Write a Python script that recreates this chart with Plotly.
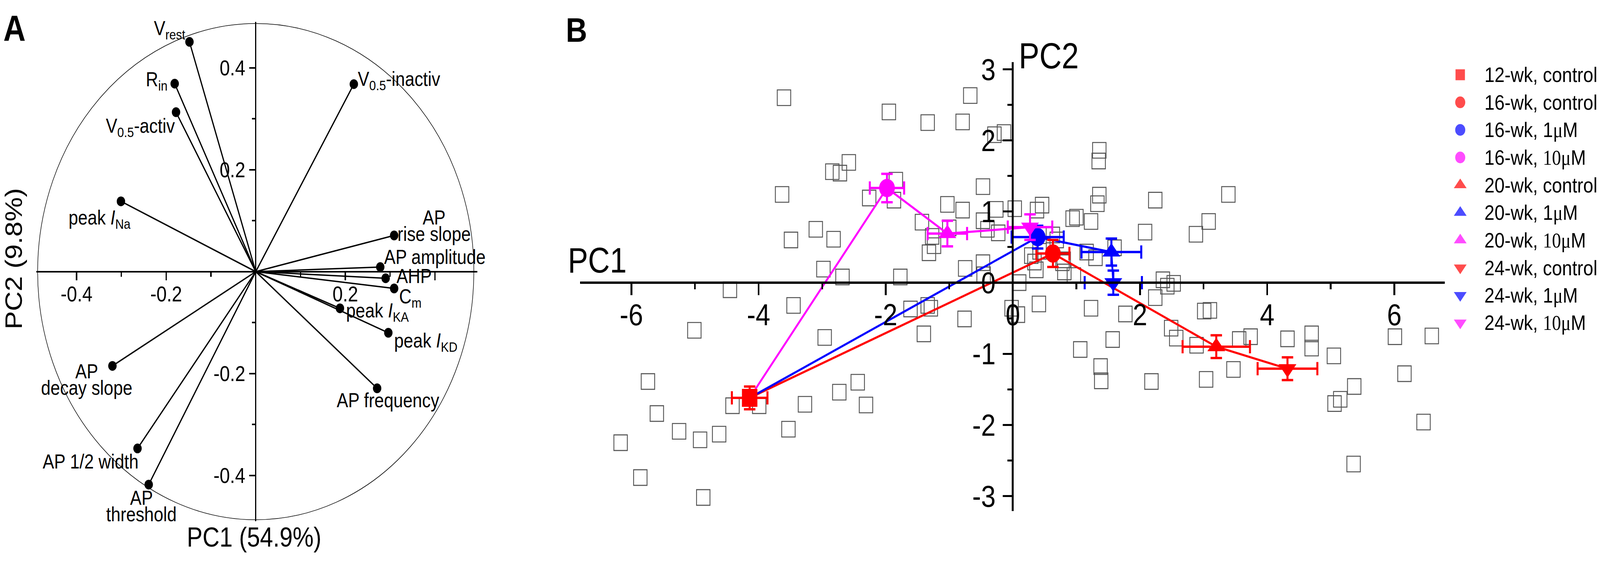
import plotly.graph_objects as go

W, H = 4762, 1442
FONT = "Liberation Sans, Arial, sans-serif"

# ---------------- Panel A: PCA loadings ----------------
load_names = [
    "V<sub>rest</sub>", "R<sub>in</sub>", "V<sub>0.5</sub>-activ", "V<sub>0.5</sub>-inactiv",
    "peak <i>I</i><sub>Na</sub>", "AP<br>rise slope", "AP amplitude", "AHP", "C<sub>m</sub>",
    "peak <i>I</i><sub>KA</sub>", "peak <i>I</i><sub>KD</sub>", "AP frequency",
    "AP<br>decay slope", "AP 1/2 width", "AP<br>threshold",
]
load_pc1 = [-0.148, -0.181, -0.178, 0.219, -0.301, 0.309, 0.278, 0.290, 0.309,
            0.188, 0.296, 0.271, -0.320, -0.264, -0.239]
load_pc2 = [0.451, 0.369, 0.313, 0.368, 0.138, 0.071, 0.009, -0.013, -0.033,
            -0.072, -0.120, -0.229, -0.185, -0.347, -0.418]
a_xtickvals = [-0.4, -0.2, 0.2, 0.4]
a_xticktext = ["-0.4", "-0.2", "0.2", " "]
a_ytickvals = [-0.4, -0.2, 0.2, 0.4]
a_yticktext = ["-0.4", "-0.2", "0.2", "0.4"]
a_minor = [-0.3, -0.1, 0.1, 0.3]
a_xtitle = "PC1 (54.9%)"
a_ytitle = "PC2 (9.8%)"

# ---------------- Panel B: PCA scores ----------------
cell_pc1 = [
    -3.60, -1.95, -1.34, -0.79, -0.67, -0.29, -0.14, -2.58, -2.72, -2.84,
    -3.63, -1.84, -2.26, -1.87, -0.47, -1.03, -0.79, -0.26, 0.03, -1.43,
    -1.27, -1.00, -0.47, -0.40, -0.23, -3.10, -3.49, -2.82, -1.32, -1.24,
    -2.98, -2.68, -1.77, -0.75, -0.47, -0.46, -4.45, 0.10, -3.45, -1.61,
    -1.34, -1.29, -0.76, -0.02, 0.08, -5.01, -2.96, -1.40, -5.74, -5.60,
    -6.17, -5.25, -4.92, -4.62, -5.86, -4.87, -4.41, -3.99, -3.53, -3.27,
    -2.73, -2.44, -2.31,
    1.36, 1.35, 1.36, 1.33, 0.38, 0.46, 0.94, 1.00, 1.23, 2.24,
    3.39, 3.08, 2.88, 2.08, 0.63, 0.69, 0.29, 0.37, 0.81, 0.96,
    1.16, 1.30, 1.60, 0.41, 1.23, 1.77, 2.24, 2.36, 2.53, 2.43,
    2.49, 2.57, 2.89, 3.01, 3.10, 3.56, 3.74, 4.32, 4.70, 4.70,
    5.05, 6.01, 6.59, 6.16, 1.06, 1.57, 1.38, 1.39, 2.18, 3.04,
    3.47, 5.37, 5.15, 5.06, 6.46, 5.36, 0.34, 0.78, 0.42, 0.80,
]
cell_pc2 = [
    2.60, 2.40, 2.25, 2.26, 2.63, 2.08, 2.11, 1.69, 1.54, 1.56,
    1.24, 1.44, 1.19, 1.16, 1.35, 1.10, 1.02, 1.03, 1.04, 0.85,
    0.65, 0.77, 0.87, 0.75, 0.70, 0.75, 0.60, 0.61, 0.42, 0.52,
    0.19, 0.08, 0.08, 0.20, 0.28, 0.11, -0.10, 0.00, -0.32, -0.37,
    -0.32, -0.36, -0.51, -0.36, -0.45, -0.67, -0.77, -0.72, -1.39, -1.84,
    -2.25, -2.09, -2.21, -2.13, -2.74, -3.02, -1.73, -1.73, -2.06, -1.71,
    -1.54, -1.40, -1.72,
    1.86, 1.71, 1.23, 1.11, 1.02, 1.09, 0.90, 0.92, 0.86, 1.16,
    1.24, 0.86, 0.68, 0.71, 0.67, 0.60, 0.38, 0.18, 0.15, 0.10,
    0.43, 0.35, 0.49, -0.30, -0.36, -0.44, -0.21, 0.04, -0.01, -0.05,
    -0.64, -0.78, -0.88, -0.40, -0.39, -0.80, -0.76, -0.79, -0.72, -0.92,
    -1.03, -0.76, -0.75, -1.28, -0.94, -0.80, -1.18, -1.38, -1.39, -1.36,
    -1.22, -1.46, -1.64, -1.70, -1.96, -2.55, 0.29, 0.28, 0.44, 0.32,
]

MU = "<span style='font-family:Liberation Serif, Times New Roman, serif'>"
group_names = [
    "12-wk, control", "16-wk, control",
    "16-wk, 1" + MU + "\u03bc</span>M",
    "16-wk, " + MU + "10\u03bc</span>M",
    "20-wk, control",
    "20-wk, 1" + MU + "\u03bc</span>M",
    "20-wk, " + MU + "10\u03bc</span>M",
    "24-wk, control",
    "24-wk, 1" + MU + "\u03bc</span>M",
    "24-wk, " + MU + "10\u03bc</span>M",
]
group_pc1 = [-4.14, 0.63, 0.39, -1.98, 3.20, 1.55, -1.03, 4.32, 1.58, 0.27]
group_pc2 = [-1.62, 0.41, 0.64, 1.33, -0.90, 0.43, 0.69, -1.21, 0.00, 0.78]
group_err1 = [0.28, 0.26, 0.41, 0.27, 0.53, 0.47, 0.31, 0.47, 0.45, 0.35]
group_err2 = [0.16, 0.19, 0.16, 0.20, 0.16, 0.19, 0.18, 0.16, 0.17, 0.18]
# trajectories (indices into the groups)
path_control = [0, 1, 4, 7]
path_1uM = [0, 2, 5, 8]
path_10uM = [0, 3, 6, 9]

b_ticks_x = [-6, -4, -2, 0, 2, 4, 6]
b_minor_x = [-5, -3, -1, 1, 3, 5]
b_ticks_y = [-3, -2, -1, 0, 1, 2, 3]
b_minor_y = [-2.5, -1.5, -0.5, 0.5, 1.5, 2.5]

# ---------------- styles ----------------
RED, BLUE, MAG = "#FF0000", "#0000FF", "#FF00FF"
group_colors = [RED, RED, BLUE, MAG, RED, BLUE, MAG, RED, BLUE, MAG]
group_symbols = ["square", "circle", "circle", "circle", "triangle-up", "triangle-up",
                 "triangle-up", "triangle-down", "triangle-down", "triangle-down"]
group_sizes = [46, 47, 47, 47, 46, 46, 46, 46, 46, 46]
legend_sizes = [28, 30, 30, 30, 33, 33, 33, 33, 33, 33]

# label placement: (xanchor, dx px, dy px downward) relative to loading point
label_style = [
    ("right", -11, -31), ("right", -20, -7), ("right", -2, 39), ("left", 11, -9),
    ("right", 30, 46), ("center", 119, -46), ("left", 10, -26), ("left", 31, -5),
    ("left", 14, 25), ("left", 17, 10), ("left", 16, 24), ("center", 33, 31),
    ("center", -77, 14), ("right", 4, 34), ("center", -22, 34),
]
LINE_PITCH = 42


def fx(p):
    return p / W


def fy(p):
    return 1 - p / H


def zero_pos(rng, dom):
    t = (0 - rng[0]) / (rng[1] - rng[0])
    return dom[0] + t * (dom[1] - dom[0])


A_xdom = [fx(108), fx(1421)]
A_ydom = [fy(1338), fy(32)]
A_xr = [-0.49, 0.495]
A_yr = [-0.49, 0.49]
B_xdom = [fx(1726), fx(4303)]
B_ydom = [fy(1311), fy(137)]
B_xr = [-6.81, 6.81]
B_yr = [-3.21, 3.10]

fig = go.Figure()

# ---- Panel A traces ----
vx, vy = [], []
for a, b in zip(load_pc1, load_pc2):
    vx += [0, a, None]
    vy += [0, b, None]
fig.add_trace(go.Scatter(x=vx, y=vy, mode="lines", line=dict(color="black", width=3.6),
                         xaxis="x", yaxis="y", hoverinfo="skip", showlegend=False))
fig.add_trace(go.Scatter(x=load_pc1, y=load_pc2, mode="markers",
                         marker=dict(color="black", size=25), xaxis="x", yaxis="y",
                         showlegend=False))
R_CIRC = 0.487
fig.add_shape(type="circle", xref="x", yref="y", x0=-R_CIRC, y0=-R_CIRC, x1=R_CIRC, y1=R_CIRC,
              line=dict(color="black", width=1.6), layer="below")

annotations = []
for name, a, b, (xa, dx, dy) in zip(load_names, load_pc1, load_pc2, label_style):
    for k, line in enumerate(name.split("<br>")):
        annotations.append(dict(x=a, y=b, xref="x", yref="y", text=line, showarrow=False,
                                xanchor=xa, yanchor="middle", xshift=dx,
                                yshift=-(dy + k * LINE_PITCH), borderpad=0,
                                font=dict(family=FONT, size=51, color="black")))

# ---- Panel B traces ----
fig.add_trace(go.Scatter(x=cell_pc1, y=cell_pc2, mode="markers", xaxis="x2", yaxis="y2",
                         marker=dict(symbol="square-open", size=40, color="#555555",
                                     line=dict(width=2.6, color="#555555")),
                         showlegend=False))
for path, col in [(path_control, RED), (path_1uM, BLUE), (path_10uM, MAG)]:
    fig.add_trace(go.Scatter(x=[group_pc1[i] for i in path], y=[group_pc2[i] for i in path],
                             mode="lines", line=dict(color=col, width=5.5),
                             xaxis="x2", yaxis="y2", showlegend=False, hoverinfo="skip"))
for i in range(len(group_names)):
    fig.add_trace(go.Scatter(
        x=[group_pc1[i]], y=[group_pc2[i]], mode="markers", xaxis="x2", yaxis="y2",
        marker=dict(symbol=group_symbols[i], size=group_sizes[i], color=group_colors[i],
                    line=dict(width=0)),
        error_x=dict(type="data", array=[group_err1[i]], color=group_colors[i],
                     thickness=6, width=17),
        error_y=dict(type="data", array=[group_err2[i]], color=group_colors[i],
                     thickness=6, width=17),
        showlegend=False))

# ---- legend (drawn on its own hidden axes, pixel units) ----
LEG_Y0, LEG_DY, LEG_MX, LEG_TX = 170, 72.1, 4346, 4417
leg_y = [LEG_Y0 + i * LEG_DY for i in range(len(group_names))]
fig.add_trace(go.Scatter(x=[LEG_MX] * len(group_names), y=leg_y, mode="markers",
                         xaxis="x3", yaxis="y3",
                         marker=dict(symbol=group_symbols, size=legend_sizes,
                                     color=group_colors, line=dict(width=0)),
                         showlegend=False, hoverinfo="skip"))
for name, yy in zip(group_names, leg_y):
    annotations.append(dict(x=LEG_TX, y=yy, xref="x3", yref="y3", text=name, showarrow=False,
                            xanchor="left", yanchor="middle", borderpad=0,
                            font=dict(family=FONT, size=54, color="black")))

# ---- titles / panel letters ----
annotations += [
    dict(x=fx(756), y=fy(1380), xref="paper", yref="paper", text=a_xtitle, showarrow=False,
         xanchor="center", yanchor="middle", font=dict(family=FONT, size=70)),
    dict(x=fx(41), y=fy(651), xref="paper", yref="paper", text=a_ytitle, showarrow=False,
         textangle=-90, xanchor="center", yanchor="middle", font=dict(family=FONT, size=70)),
    dict(x=fx(1688), y=fy(656), xref="paper", yref="paper", text="PC1", showarrow=False,
         xanchor="left", yanchor="middle", font=dict(family=FONT, size=90)),
    dict(x=fx(3030), y=fy(120), xref="paper", yref="paper", text="PC2", showarrow=False,
         xanchor="left", yanchor="middle", font=dict(family=FONT, size=92)),
    dict(x=fx(8), y=fy(48), xref="paper", yref="paper", text="<b>A</b>", showarrow=False,
         xanchor="left", yanchor="middle", font=dict(family=FONT, size=92)),
    dict(x=fx(1682), y=fy(53), xref="paper", yref="paper", text="<b>B</b>", showarrow=False,
         xanchor="left", yanchor="middle", font=dict(family=FONT, size=88)),
]

common = dict(showgrid=False, zeroline=False, showline=True, linecolor="black",
              ticks="outside", tickcolor="black", anchor="free")

fig.update_layout(
    width=W, height=H, autosize=False,
    margin=dict(l=0, r=0, t=0, b=0),
    paper_bgcolor="white", plot_bgcolor="white",
    font=dict(family=FONT, color="black"),
    showlegend=False,
    annotations=annotations,
    xaxis=dict(domain=A_xdom, range=A_xr, position=zero_pos(A_yr, A_ydom),
               linewidth=4, ticklen=20, tickwidth=4, tickvals=a_xtickvals, ticktext=a_xticktext,
               tickfont=dict(size=55), ticklabelstandoff=-12,
               minor=dict(tickvals=a_minor, ticklen=11, tickwidth=4, ticks="outside",
                          tickcolor="black"), **common),
    yaxis=dict(domain=A_ydom, range=A_yr, position=zero_pos(A_xr, A_xdom),
               linewidth=4, ticklen=18, tickwidth=4, tickvals=a_ytickvals, ticktext=a_yticktext,
               tickfont=dict(size=55), ticklabelstandoff=0,
               minor=dict(tickvals=a_minor, ticklen=9, tickwidth=4, ticks="outside",
                          tickcolor="black"), **common),
    xaxis2=dict(domain=B_xdom, range=B_xr, position=zero_pos(B_yr, B_ydom),
                linewidth=5.5, ticklen=29, tickwidth=5, tickvals=b_ticks_x,
                ticktext=[str(v) for v in b_ticks_x], tickfont=dict(size=78),
                ticklabelstandoff=-16,
                minor=dict(tickvals=b_minor_x, ticklen=14, tickwidth=5, ticks="outside",
                           tickcolor="black"), **common),
    yaxis2=dict(domain=B_ydom, range=B_yr, position=zero_pos(B_xr, B_xdom),
                linewidth=5.5, ticklen=27, tickwidth=5, tickvals=b_ticks_y,
                ticktext=[str(v) for v in b_ticks_y], tickfont=dict(size=78),
                ticklabelstandoff=6,
                minor=dict(tickvals=b_minor_y, ticklen=13, tickwidth=5, ticks="outside",
                           tickcolor="black"), **common),
    xaxis3=dict(domain=[fx(4300), 1], range=[4300, 4762], visible=False, anchor="y3"),
    yaxis3=dict(domain=[0, 1], range=[H, 0], visible=False, anchor="x3"),
)

# Scale the fixed-size figure so that it fills the browser viewport.
FIT_JS = """
(function(){
  var gd = document.getElementById('{plot_id}');
  document.documentElement.style.margin = '0';
  document.body.style.margin = '0';
  document.documentElement.style.overflow = 'hidden';
  document.body.style.overflow = 'hidden';
  function fit(){
    var vw = document.documentElement.clientWidth || window.innerWidth;
    var vh = document.documentElement.clientHeight || window.innerHeight;
    var sx = vw / %d, sy = vh / %d;
    if (!(sx > 0)) { sx = 1; }
    if (!(sy > 0)) { sy = sx; }
    gd.style.transformOrigin = '0 0';
    gd.style.transform = 'scale(' + sx + ',' + sy + ')';
    var p = gd.parentElement;
    p.style.width = (%d * sx) + 'px';
    p.style.height = (%d * sy) + 'px';
    p.style.overflow = 'hidden';
  }
  fit();
  window.addEventListener('resize', fit);
})();
""" % (W, H, W, H)

fig.write_html("out.html", post_script=FIT_JS, config={"displayModeBar": False})
